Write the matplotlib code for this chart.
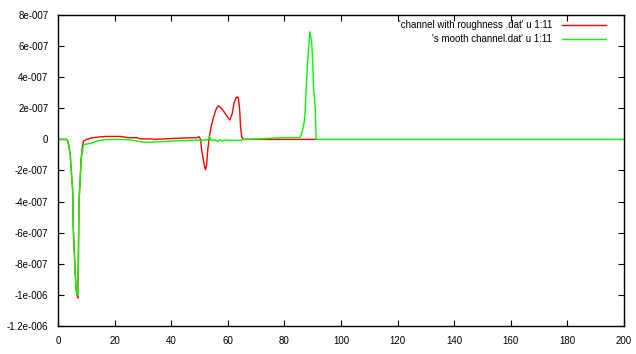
import numpy as np
import matplotlib
matplotlib.use("Agg")
import matplotlib.pyplot as plt

plt.rcParams["font.family"] = ["Liberation Sans", "DejaVu Sans"]

# column 11 values (units of 1e-7)
x_rough = [0, 3.1, 3.5, 4.3, 4.6, 5.2, 5.4, 6.0, 6.4, 6.6, 7.0, 7.2, 7.4, 8.2, 8.6, 9.0,
           10.2, 12, 14.3, 17, 22, 25, 28, 29, 33, 34, 42, 46, 48, 49.3, 49.8, 50.4,
           50.7, 51.2, 51.8, 52.1, 52.5, 52.9, 53.5, 54.1, 54.9, 55.7, 56.5, 57.4,
           58.6, 59.8, 60.7, 61.6, 62.2, 63.0, 63.7, 64.2, 64.5, 64.9, 65.5, 91.2]
y_rough = [0, 0, -0.13, -0.9, -1.8, -3.3, -5.7, -8.3, -9.6, -9.9, -10.2, -7.7, -4.1, -1.2, -0.5, -0.1,
           0.0, 0.1, 0.15, 0.19, 0.19, 0.11, 0.11, 0.03, 0.03, 0.0, 0.07, 0.1, 0.1, 0.12, 0.18, 0.0,
           -0.6, -1.12, -1.77, -1.95, -1.65, -0.7, 0.18, 0.82, 1.37, 1.86, 2.15, 2.07,
           1.79, 1.47, 1.25, 1.68, 2.33, 2.71, 2.71, 1.9, 0.82, 0.18, 0.0, 0.0]

x_smooth = [0, 3.1, 3.5, 4.3, 4.6, 5.2, 5.4, 6.0, 6.4, 6.6, 6.9, 7.2, 7.4, 8.2, 8.6, 9.0,
            10.0, 11.5, 13.8, 16.5, 22, 25, 28, 31, 36, 43, 49, 50.5, 53.0, 53.5, 54.1,
            54.6, 55.4, 56.2, 57.3, 57.9, 59.1, 59.7, 64.9, 65.5, 72, 78.6, 85.5, 86.1,
            87.0, 87.3, 87.9, 88.5, 89.0, 89.4, 89.6, 90.0, 90.3, 90.9, 91.2, 200]
y_smooth = [0, 0, -0.13, -0.9, -1.8, -3.3, -5.7, -8.3, -9.6, -9.9, -10.0, -7.7, -4.1, -1.2, -0.8, -0.35,
            -0.3, -0.26, -0.11, -0.02, 0.0, -0.02, -0.11, -0.19, -0.15, -0.08, -0.05, -0.06, -0.02, 0.19, -0.05,
            -0.1, -0.02, -0.13, -0.02, -0.1, -0.02, -0.06, -0.06, 0.0, 0.04, 0.11, 0.11, 0.37,
            1.1, 1.68, 4.02, 5.74, 6.92, 6.5, 6.39, 4.88, 3.37, 2.0, 0.0, 0.0]

x_ticks = list(range(0, 201, 20))
y_ticks = [8e-7, 6e-7, 4e-7, 2e-7, 0, -2e-7, -4e-7, -6e-7, -8e-7, -1e-6, -1.2e-6]
y_labels = ["8e-007", "6e-007", "4e-007", "2e-007", "0", "-2e-007", "-4e-007",
            "-6e-007", "-8e-007", "-1e-006", "-1.2e-006"]
labels = ["'channel with roughness .dat' u 1:11", "'s mooth channel.dat' u 1:11"]
colors = ["#ff0000", "#00ff00"]

fig = plt.figure(figsize=(6.36, 3.54), dpi=100)
ax = fig.add_axes([58 / 636, 1 - 326 / 354, 566 / 636, 311 / 354])

ax.plot(x_rough, np.array(y_rough) * 1e-7, color=colors[0], lw=1.0)
ax.plot(x_smooth, np.array(y_smooth) * 1e-7, color=colors[1], lw=1.0)

ax.set_xlim(0, 200)
ax.set_ylim(-1.2e-6, 8e-7)
ax.set_xticks(x_ticks)
ax.set_yticks(y_ticks)
ax.set_yticklabels(y_labels)
ax.tick_params(direction="in", length=4, width=0.8, top=True, right=True,
               labelsize=7, pad=7)
for s in ax.spines.values():
    s.set_linewidth(1.0)

# gnuplot style key, text right aligned in front of the sample line
for i, (lab, c) in enumerate(zip(labels, colors)):
    yk = 0.968 - i * 0.046
    ax.text(0.873, yk, lab, transform=ax.transAxes, ha="right", va="center", fontsize=7)
    ax.plot([0.8905, 0.9677], [yk, yk], transform=ax.transAxes, color=c, lw=1.0)

fig.savefig("out.png", dpi=100)
